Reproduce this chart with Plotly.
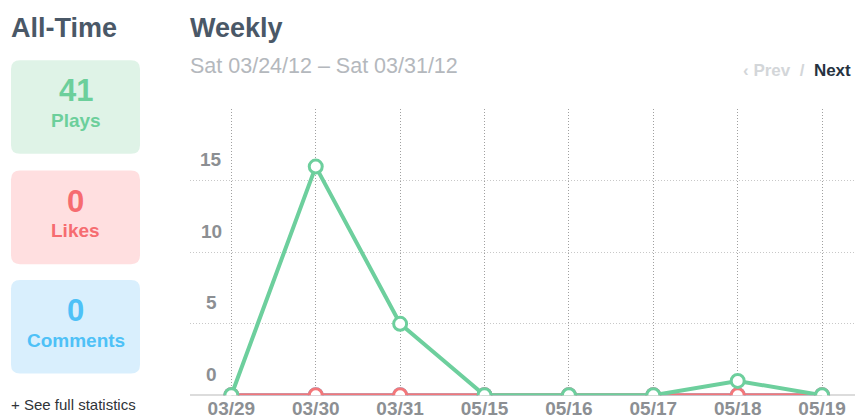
import plotly.graph_objects as go

# Weekly activity per day
days = ["03/29", "03/30", "03/31", "05/15", "05/16", "05/17", "05/18", "05/19"]
plays = [0, 16, 5, 0, 0, 0, 1, 0]
likes = [0, 0, 0, 0, 0, 0, 0, 0]
comments = [0, 0, 0, 0, 0, 0, 0, 0]
y_ticks = [0, 5, 10, 15]

# All-time totals
total_labels = ["Plays", "Likes", "Comments"]
total_values = [41, 0, 0]
box_fill = ["#dff3e7", "#ffdfe0", "#d9effd"]
box_text = ["#6ccf9b", "#f66c70", "#4ec1f7"]

GREEN, RED, BLUE = "#6dcf9d", "#f3777a", "#4ec1f7"
W, H = 855, 419
FONT = "Liberation Sans"


def px(x):
    return x / W


def py(y):
    return 1 - y / H


def rounded_rect(x0, y0, x1, y1, r):
    rx, ry = r / W, r / H
    X0, X1 = px(x0), px(x1)
    Y0, Y1 = py(y1), py(y0)  # bottom, top in paper coords
    return (f"M {X0 + rx} {Y0} L {X1 - rx} {Y0} Q {X1} {Y0} {X1} {Y0 + ry} "
            f"L {X1} {Y1 - ry} Q {X1} {Y1} {X1 - rx} {Y1} "
            f"L {X0 + rx} {Y1} Q {X0} {Y1} {X0} {Y1 - ry} "
            f"L {X0} {Y0 + ry} Q {X0} {Y0} {X0 + rx} {Y0} Z")


fig = go.Figure()
for name, vals, col in [("Comments", comments, BLUE), ("Likes", likes, RED), ("Plays", plays, GREEN)]:
    fig.add_trace(go.Scatter(
        x=days, y=vals, name=name, mode="lines+markers",
        line=dict(color=col, width=4),
        marker=dict(size=13, color="white", line=dict(color=col, width=3)),
    ))

shapes = []
annotations = []

# All-time boxes
box_tops = [61, 173, 284]
for lbl, val, fill, tc, top in zip(total_labels, total_values, box_fill, box_text, box_tops):
    shapes.append(dict(type="path", xref="paper", yref="paper",
                       path=rounded_rect(11, top, 140, top + 95, 9),
                       fillcolor=fill, line=dict(width=0), layer="below"))
    annotations.append(dict(xref="paper", yref="paper", x=px(75.5), y=py(top + 31),
                            xanchor="center", yanchor="middle",
                            text=f"<b>{val}</b>", showarrow=False,
                            font=dict(family=FONT, size=31, color=tc)))
    annotations.append(dict(xref="paper", yref="paper", x=px(75.5), y=py(top + 61),
                            xanchor="center", yanchor="middle",
                            text=f"<b>{lbl}</b>", showarrow=False,
                            font=dict(family=FONT, size=19, color=tc)))

annotations += [
    dict(xref="paper", yref="paper", x=px(9), y=py(28), xanchor="left", yanchor="middle",
         text="<b>All-Time</b>", showarrow=False,
         font=dict(family=FONT, size=27, color="#4a5867")),
    dict(xref="paper", yref="paper", x=px(9), y=py(410), xanchor="left", yanchor="middle",
         text="+ See full statistics", showarrow=False,
         font=dict(family=FONT, size=15, color="#2f3338")),
    dict(xref="paper", yref="paper", x=px(188), y=py(28), xanchor="left", yanchor="middle",
         text="<b>Weekly</b>", showarrow=False,
         font=dict(family=FONT, size=27, color="#4a5867")),
    dict(xref="paper", yref="paper", x=px(188), y=py(67), xanchor="left", yanchor="middle",
         text="Sat 03/24/12 \u2013 Sat 03/31/12", showarrow=False,
         font=dict(family=FONT, size=21.5, color="#b4b8bd")),
    dict(xref="paper", yref="paper", x=px(853), y=py(72), xanchor="right", yanchor="middle",
         text="<span style='color:#d3d6d9'>\u2039 Prev</span>"
              "<span style='color:#d3d6d9'>  /  </span>"
              "<span style='color:#26323f'>Next</span>",
         showarrow=False, font=dict(family=FONT, size=17, weight="bold")),
]

# y tick labels sit above their gridlines
for t in y_ticks:
    annotations.append(dict(xref="paper", yref="y", x=px(211), y=t, yshift=21,
                            xanchor="center", yanchor="middle",
                            text=f"<b>{t}</b>", showarrow=False,
                            font=dict(family=FONT, size=19, color="#8c8f93")))

fig.update_layout(
    width=W, height=H,
    margin=dict(l=0, r=0, t=0, b=0),
    paper_bgcolor="white", plot_bgcolor="white",
    showlegend=False,
    shapes=shapes, annotations=annotations,
    xaxis=dict(domain=[px(190), 1], range=[-0.49, 7.39],
               showgrid=True, gridcolor="#a0a0a0", griddash="1px,2px", gridwidth=1,
               showline=False, zeroline=False, ticks="",
               tickfont=dict(family=FONT, size=19, color="#8c8f93", weight="bold"),
               ticklabelstandoff=0),
    yaxis=dict(domain=[py(401), py(111)], range=[0, 20],
               tickvals=[0, 5, 10, 15, 20], showticklabels=False,
               showgrid=True, gridcolor="#c8c8c8", griddash="1px,2px", gridwidth=1,
               zeroline=True, zerolinecolor="#dcdcdc", zerolinewidth=2,
               showline=False),
)

fig.write_html("out.html")
